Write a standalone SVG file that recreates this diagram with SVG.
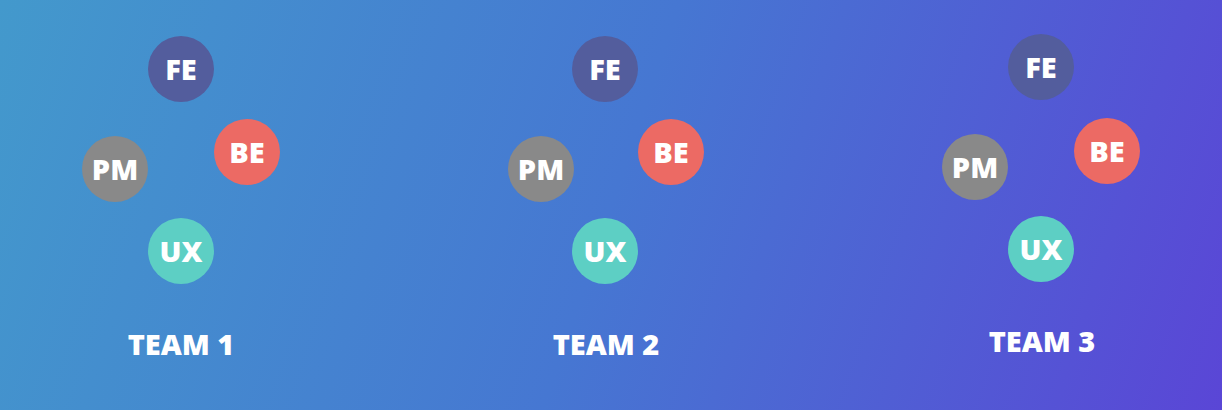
<svg xmlns="http://www.w3.org/2000/svg" width="1222" height="410" viewBox="0 0 1222 410">
<defs>
<linearGradient id="bg" x1="0" y1="0" x2="1222" y2="410" gradientUnits="userSpaceOnUse">
<stop offset="0" stop-color="#4399cc"/>
<stop offset="0.5" stop-color="#4677d2"/>
<stop offset="1" stop-color="#5a46d6"/>
</linearGradient>
<style>
.fe{fill:#535d9d}
.be{fill:#ec6a64}
.pm{fill:#898989}
.ux{fill:#5dcfc4}
.t{font-family:"Open Sans","Liberation Sans",sans-serif;font-weight:800;font-size:29px;fill:#fff;text-anchor:middle}
.lbl{font-family:"Open Sans","Liberation Sans",sans-serif;font-weight:800;font-size:29px;fill:#fff;text-anchor:middle}
</style>
</defs>
<rect width="1222" height="410" fill="url(#bg)"/>
<g id="team1">
<g id="t1-fe"><circle class="fe" cx="181" cy="69" r="33"/><text class="t" x="181" y="80">FE</text></g>
<g id="t1-be"><circle class="be" cx="247" cy="152" r="33"/><text class="t" x="247" y="163">BE</text></g>
<g id="t1-pm"><circle class="pm" cx="115" cy="169" r="33"/><text class="t" x="115" y="180">PM</text></g>
<g id="t1-ux"><circle class="ux" cx="181" cy="251" r="33"/><text class="t" x="181" y="262">UX</text></g>
<text class="lbl" x="181" y="355">TEAM 1</text>
</g>
<g id="team2">
<g id="t2-fe"><circle class="fe" cx="605" cy="69" r="33"/><text class="t" x="605" y="80">FE</text></g>
<g id="t2-be"><circle class="be" cx="671" cy="152" r="33"/><text class="t" x="671" y="163">BE</text></g>
<g id="t2-pm"><circle class="pm" cx="541" cy="169" r="33"/><text class="t" x="541" y="180">PM</text></g>
<g id="t2-ux"><circle class="ux" cx="605" cy="251" r="33"/><text class="t" x="605" y="262">UX</text></g>
<text class="lbl" x="606" y="355">TEAM 2</text>
</g>
<g id="team3">
<g id="t3-fe"><circle class="fe" cx="1041" cy="67" r="33"/><text class="t" x="1041" y="78">FE</text></g>
<g id="t3-be"><circle class="be" cx="1107" cy="151" r="33"/><text class="t" x="1107" y="162">BE</text></g>
<g id="t3-pm"><circle class="pm" cx="975" cy="167" r="33"/><text class="t" x="975" y="178">PM</text></g>
<g id="t3-ux"><circle class="ux" cx="1041" cy="249" r="33"/><text class="t" x="1041" y="260">UX</text></g>
<text class="lbl" x="1042" y="352">TEAM 3</text>
</g>
<g id="connectors"></g>
</svg>
